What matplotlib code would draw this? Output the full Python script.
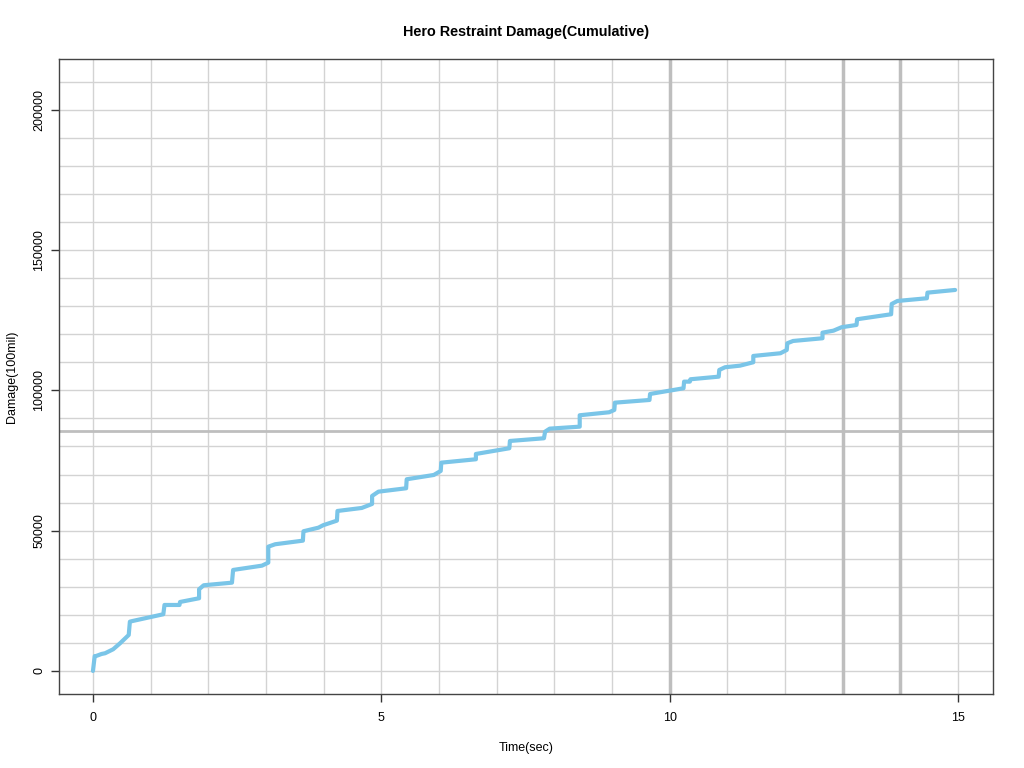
import matplotlib
matplotlib.use("Agg")
import matplotlib.pyplot as plt

plt.rcParams['font.family'] = ['Liberation Sans', 'DejaVu Sans']

# cumulative damage
time_sec = [0.0, 0.03, 0.05, 0.15, 0.21, 0.35, 0.47, 0.62, 0.64, 0.69,
            1.22, 1.24, 1.50, 1.51, 1.84, 1.84, 1.92, 2.41, 2.43, 2.93,
            3.04, 3.04, 3.16, 3.64, 3.65, 3.91, 3.99, 4.23, 4.24, 4.66,
            4.84, 4.84, 4.95, 5.43, 5.44, 5.91, 6.03, 6.04, 6.64, 6.64,
            7.22, 7.23, 7.82, 7.84, 7.92, 8.44, 8.44, 8.95, 9.04, 9.05,
            9.65, 9.66, 10.24, 10.25, 10.35, 10.36, 10.85, 10.86, 10.96, 11.22,
            11.45, 11.45, 11.92, 12.03, 12.04, 12.14, 12.65, 12.65, 12.84, 12.98,
            13.24, 13.25, 13.84, 13.85, 13.95, 14.46, 14.47, 14.95]
damage = [0, 5300, 5300, 6060, 6310, 7730, 9870, 12830, 17570, 17820,
          20210, 23520, 23520, 24590, 25910, 29120, 30540, 31470, 36000, 37530,
          38600, 44300, 45160, 46440, 49790, 51070, 51930, 53570, 57020, 58090,
          59520, 62370, 63900, 65110, 68320, 69850, 71280, 74240, 75450, 77340,
          79370, 81970, 82930, 85290, 86360, 87070, 91130, 92200, 93020, 95620,
          96580, 98720, 100750, 103110, 103110, 103960, 104890, 107280, 108240, 108810,
          110020, 112270, 113230, 114400, 116790, 117610, 118570, 120570, 121280, 122500,
          123310, 125350, 127130, 130800, 131870, 132830, 134830, 135790]

marker_times = [10, 13, 14]
marker_damage = 85600

fig = plt.figure(figsize=(10.24, 7.68), dpi=100)
ax = fig.add_axes([0.0579, 0.0964, 0.9118, 0.8264])

for t in range(0, 16):
    ax.axvline(t, color='#d3d3d3', lw=1, zorder=1)
for v in range(0, 220000, 10000):
    ax.axhline(v, color='#d3d3d3', lw=1, zorder=1)
for t in marker_times:
    ax.axvline(t, color='#bebebe', lw=2.5, zorder=2)
ax.axhline(marker_damage, color='#bebebe', lw=2, zorder=2)

ax.plot(time_sec, damage, color='#7ac5e8', lw=3, zorder=3,
        solid_joinstyle='round', solid_capstyle='round')

ax.set_xlim(-0.584, 15.606)
ax.set_ylim(-8200, 218000)
ax.set_xticks([0, 5, 10, 15])
ax.set_yticks([0, 50000, 100000, 150000, 200000])
ax.set_yticklabels(['0', '50000', '100000', '150000', '200000'],
                   rotation=90, va='center')
ax.tick_params(labelsize=9, length=6, width=1, color='#333333')
ax.tick_params(axis='x', pad=7)
ax.tick_params(axis='y', pad=4)

for s in ax.spines.values():
    s.set_color('#444444')
    s.set_linewidth(1)

ax.set_title('Hero Restraint Damage(Cumulative)', fontsize=10.4,
             fontweight='bold', pad=17)
ax.set_xlabel('Time(sec)', fontsize=9, labelpad=13)
ax.set_ylabel('Damage(100mil)', fontsize=9, labelpad=11)

fig.savefig('out.png', dpi=100)
